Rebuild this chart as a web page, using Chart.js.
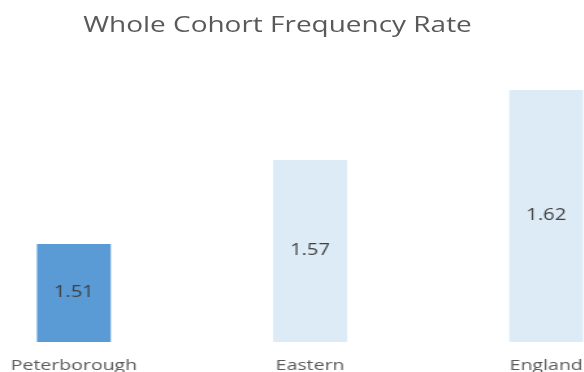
<!DOCTYPE html>
<html>
<head>
<meta charset="utf-8">
<script src="https://cdn.jsdelivr.net/npm/chart.js"></script>
<style>
    html, body { margin: 0; padding: 0; background: #fff; overflow: hidden; width: 584px; height: 372px; }
    #wrap { position: absolute; left: 0; top: 0; width: 449px; height: 372px; transform: scaleX(1.3); transform-origin: 0 0; }
    #title { position: absolute; left: 0; top: 9px; width: 427px; text-align: center; font: 21.5px "Open Sans"; line-height: 30px; color: #595959; white-space: nowrap; }
    #chart { position: absolute; left: -34px; top: 0; }
</style>
</head>
<body>
<div id="wrap">
    <div id="title">Whole Cohort Frequency Rate</div>
    <canvas id="chart" width="545" height="372"></canvas>
</div>

<script>
    const categories = ['Peterborough', 'Eastern', 'England'];
    const rates = [1.51, 1.57, 1.62];
    const barColors = ['#5b9bd5', '#ddebf7', '#ddebf7'];

    // value written in the middle of the visible part of each bar
    const valueLabels = {
        id: 'valueLabels',
        afterDraw(chart) {
            const ctx = chart.ctx;
            const bottom = chart.chartArea.bottom;
            ctx.save();
            ctx.font = '15.5px "Open Sans", sans-serif';
            ctx.fillStyle = '#404040';
            ctx.textAlign = 'center';
            ctx.textBaseline = 'middle';
            chart.getDatasetMeta(0).data.forEach((bar, i) => {
                ctx.fillText(rates[i].toFixed(2), bar.x, (bar.y + Math.min(bar.base, bottom)) / 2);
            });
            ctx.restore();
        }
    };

    new Chart(document.getElementById('chart'), {
        type: 'bar',
        data: {
            labels: categories,
            datasets: [{ data: rates, backgroundColor: barColors, borderWidth: 0 }]
        },
        options: {
            responsive: false,
            animation: false,
            devicePixelRatio: 1,
            layout: { padding: { top: 62, left: 0, right: 0, bottom: 0 } },
            categoryPercentage: 1,
            barPercentage: 0.313,
            plugins: { legend: { display: false }, tooltip: { enabled: false } },
            scales: {
                x: {
                    grid: { display: false },
                    border: { display: false },
                    ticks: { color: '#595959', font: { family: 'Open Sans', size: 15 }, padding: 7 },
                    afterFit: s => { s.height = 30; }
                },
                y: { display: false, min: 1.44, max: 1.64 }
            }
        },
        plugins: [valueLabels]
    });
</script>
</body>
</html>
